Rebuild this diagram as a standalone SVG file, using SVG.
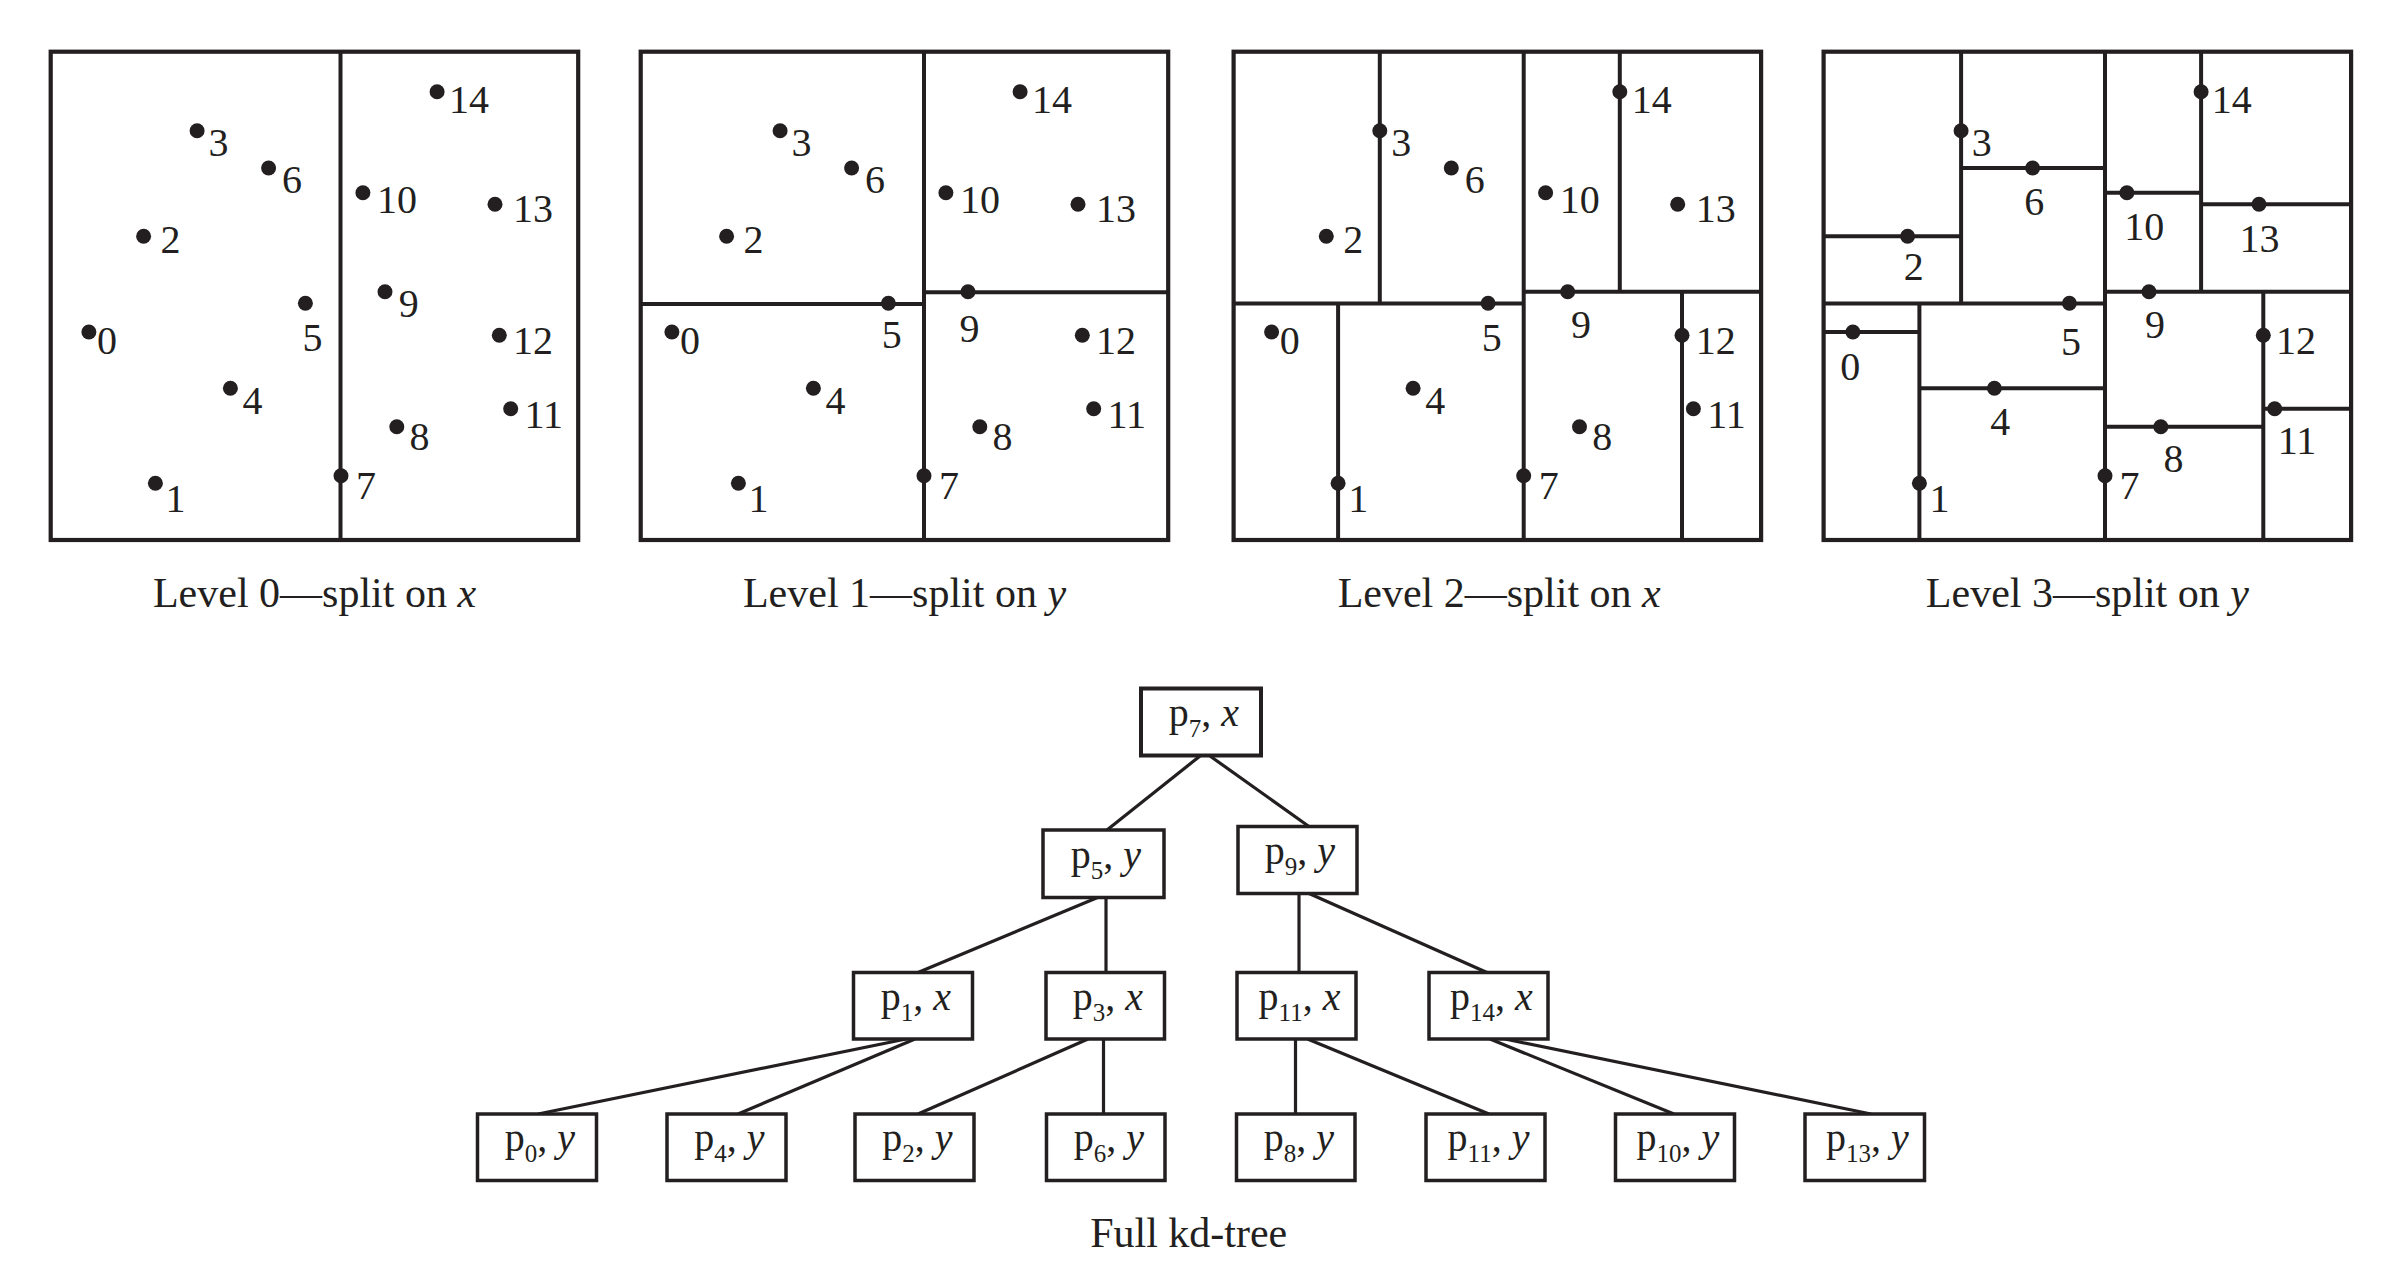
<svg xmlns="http://www.w3.org/2000/svg" xmlns:xlink="http://www.w3.org/1999/xlink" width="2400" height="1280" viewBox="0 0 2400 1280">
<style>
.frame{fill:none;stroke:#231f20;stroke-width:4.2}
.split{stroke:#231f20;stroke-width:4;fill:none}
.dot{fill:#231f20}
.lbl{font-family:"Liberation Serif",serif;font-size:40px;fill:#231f20}
.cap{font-family:"Liberation Serif",serif;font-size:42px;fill:#231f20;text-anchor:middle}
.node rect{fill:#fff;stroke:#231f20;stroke-width:3.5}
.node text{font-family:"Liberation Serif",serif;font-size:40px;fill:#231f20;text-anchor:middle}
.sub{font-size:25px}
.it{font-style:italic}
.edge{stroke:#231f20;stroke-width:3.2;fill:none}
</style>
<defs>
<g id="pts">
<circle class="dot" cx="88.9" cy="332" r="7.5"/>
<circle class="dot" cx="155.4" cy="483.3" r="7.5"/>
<circle class="dot" cx="143.6" cy="236.3" r="7.5"/>
<circle class="dot" cx="197.1" cy="130.7" r="7.5"/>
<circle class="dot" cx="230.4" cy="388.3" r="7.5"/>
<circle class="dot" cx="305.4" cy="303.3" r="7.5"/>
<circle class="dot" cx="268.6" cy="168" r="7.5"/>
<circle class="dot" cx="341" cy="475.7" r="7.5"/>
<circle class="dot" cx="396.8" cy="426.7" r="7.5"/>
<circle class="dot" cx="385" cy="291.7" r="7.5"/>
<circle class="dot" cx="362.9" cy="192.7" r="7.5"/>
<circle class="dot" cx="510.7" cy="408.7" r="7.5"/>
<circle class="dot" cx="499.3" cy="335.3" r="7.5"/>
<circle class="dot" cx="495" cy="204.3" r="7.5"/>
<circle class="dot" cx="437.1" cy="91.7" r="7.5"/>
</g>
<g id="lbls">
<text class="lbl" x="449" y="112.7">14</text>
<text class="lbl" x="208.5" y="156">3</text>
<text class="lbl" x="282" y="193">6</text>
<text class="lbl" x="377" y="213">10</text>
<text class="lbl" x="513" y="221.7">13</text>
<text class="lbl" x="160.5" y="252.7">2</text>
<text class="lbl" x="97" y="354">0</text>
<text class="lbl" x="513" y="354">12</text>
<text class="lbl" x="242.5" y="414">4</text>
<text class="lbl" x="524.5" y="428.3">11</text>
<text class="lbl" x="409.5" y="450">8</text>
<text class="lbl" x="356" y="499.3">7</text>
<text class="lbl" x="165.5" y="511.7">1</text>
</g>
</defs>

<g id="panel-level0">
<rect class="frame" x="50.7" y="51.7" width="527.5" height="488.3"/>
<line class="split" x1="340.5" y1="51.7" x2="340.5" y2="540"/>
<use xlink:href="#pts"/>
<use xlink:href="#lbls"/>
<text class="lbl" x="398.7" y="316.7">9</text>
<text class="lbl" x="302.5" y="350.7">5</text>
<text class="cap" x="314.5" y="606.7">Level 0—split on <tspan class="it">x</tspan></text>
</g>

<g id="panel-level1" transform="translate(583,0)">
<rect class="frame" x="57.7" y="51.7" width="527.5" height="488.3"/>
<line class="split" x1="341" y1="51.7" x2="341" y2="540"/>
<line class="split" x1="57.7" y1="304" x2="341" y2="304"/>
<line class="split" x1="341" y1="292.2" x2="586.5" y2="292.2"/>
<use xlink:href="#pts"/>
<use xlink:href="#lbls"/>
<text class="lbl" x="376.5" y="341.7">9</text>
<text class="lbl" x="298.7" y="348.3">5</text>
<text class="cap" x="321.5" y="606.7">Level 1—split on <tspan class="it">y</tspan></text>
</g>

<g id="panel-level2" transform="translate(1182.7,0)">
<rect class="frame" x="50.9" y="51.7" width="527.5" height="488.3"/>
<line class="split" x1="341" y1="51.7" x2="341" y2="540"/>
<line class="split" x1="50.9" y1="303.5" x2="341" y2="303.5"/>
<line class="split" x1="341" y1="291.7" x2="578.4" y2="291.7"/>
<line class="split" x1="197.1" y1="51.7" x2="197.1" y2="303.5"/>
<line class="split" x1="155.4" y1="303.5" x2="155.4" y2="540"/>
<line class="split" x1="437.1" y1="51.7" x2="437.1" y2="291.7"/>
<line class="split" x1="499.3" y1="291.7" x2="499.3" y2="540"/>
<use xlink:href="#pts"/>
<use xlink:href="#lbls"/>
<text class="lbl" x="388.3" y="338.3">9</text>
<text class="lbl" x="299" y="350.7">5</text>
<text class="cap" x="316.5" y="606.7">Level 2—split on <tspan class="it">x</tspan></text>
</g>

<g id="panel-level3" transform="translate(1764,0)">
<rect class="frame" x="59.6" y="51.7" width="527.5" height="488.3"/>
<line class="split" x1="341" y1="51.7" x2="341" y2="540"/>
<line class="split" x1="59.6" y1="303.5" x2="341" y2="303.5"/>
<line class="split" x1="341" y1="291.7" x2="587.1" y2="291.7"/>
<line class="split" x1="197.1" y1="51.7" x2="197.1" y2="303.5"/>
<line class="split" x1="155.4" y1="303.5" x2="155.4" y2="540"/>
<line class="split" x1="437.1" y1="51.7" x2="437.1" y2="291.7"/>
<line class="split" x1="499.3" y1="291.7" x2="499.3" y2="540"/>
<line class="split" x1="59.6" y1="236.3" x2="197.1" y2="236.3"/>
<line class="split" x1="197.1" y1="168" x2="341" y2="168"/>
<line class="split" x1="59.6" y1="332" x2="155.4" y2="332"/>
<line class="split" x1="155.4" y1="388.3" x2="341" y2="388.3"/>
<line class="split" x1="341" y1="192.7" x2="437.1" y2="192.7"/>
<line class="split" x1="437.1" y1="204.3" x2="587.1" y2="204.3"/>
<line class="split" x1="341" y1="426.7" x2="499.3" y2="426.7"/>
<line class="split" x1="499.3" y1="408.7" x2="587.1" y2="408.7"/>
<use xlink:href="#pts"/>
<text class="lbl" x="207.7" y="156">3</text>
<text class="lbl" x="447.7" y="112.7">14</text>
<text class="lbl" x="260.2" y="215">6</text>
<text class="lbl" x="360.2" y="240">10</text>
<text class="lbl" x="475.5" y="252.3">13</text>
<text class="lbl" x="139.8" y="280">2</text>
<text class="lbl" x="380.9" y="338.3">9</text>
<text class="lbl" x="297" y="355">5</text>
<text class="lbl" x="512" y="354">12</text>
<text class="lbl" x="76.2" y="380">0</text>
<text class="lbl" x="226.2" y="435">4</text>
<text class="lbl" x="513.7" y="454.3">11</text>
<text class="lbl" x="399.5" y="471.7">8</text>
<text class="lbl" x="355.5" y="499.3">7</text>
<text class="lbl" x="165.5" y="511.7">1</text>
<text class="cap" x="323.4" y="606.7">Level 3—split on <tspan class="it">y</tspan></text>
</g>

<g id="connectors">
<line class="edge" x1="1200" y1="756" x2="1107" y2="830"/>
<line class="edge" x1="1210" y1="756" x2="1309" y2="826.5"/>
<line class="edge" x1="1097" y1="897.7" x2="918" y2="972.5"/>
<line class="edge" x1="1106" y1="897.7" x2="1106" y2="972.5"/>
<line class="edge" x1="1299" y1="893.5" x2="1299" y2="972.5"/>
<line class="edge" x1="1309" y1="893.5" x2="1487" y2="972.5"/>
<line class="edge" x1="906" y1="1039" x2="538" y2="1114"/>
<line class="edge" x1="915" y1="1039" x2="738" y2="1114"/>
<line class="edge" x1="1088" y1="1039" x2="918" y2="1114"/>
<line class="edge" x1="1103.5" y1="1039" x2="1103.5" y2="1114"/>
<line class="edge" x1="1295.5" y1="1039" x2="1295.5" y2="1114"/>
<line class="edge" x1="1307.5" y1="1039" x2="1489" y2="1114"/>
<line class="edge" x1="1490" y1="1039" x2="1674" y2="1114"/>
<line class="edge" x1="1505" y1="1039" x2="1871" y2="1114"/>
</g>

<g id="node-p7" class="node"><rect x="1141" y="688.5" width="120" height="67" style="stroke-width:4"/><text x="1204" y="725.5">p<tspan class="sub" dy="11">7</tspan><tspan dy="-11">, </tspan><tspan class="it">x</tspan></text></g>
<g id="node-p5" class="node"><rect x="1043" y="830" width="121" height="67.5"/><text x="1106" y="867.5">p<tspan class="sub" dy="11">5</tspan><tspan dy="-11">, </tspan><tspan class="it">y</tspan></text></g>
<g id="node-p9" class="node"><rect x="1238" y="826.5" width="119" height="67"/><text x="1300" y="863.5">p<tspan class="sub" dy="11">9</tspan><tspan dy="-11">, </tspan><tspan class="it">y</tspan></text></g>
<g id="node-p1" class="node"><rect x="853.5" y="972.5" width="119" height="66.5"/><text x="916" y="1009.5">p<tspan class="sub" dy="11">1</tspan><tspan dy="-11">, </tspan><tspan class="it">x</tspan></text></g>
<g id="node-p3" class="node"><rect x="1046" y="972.5" width="118.5" height="66.5"/><text x="1108" y="1009.5">p<tspan class="sub" dy="11">3</tspan><tspan dy="-11">, </tspan><tspan class="it">x</tspan></text></g>
<g id="node-p11x" class="node"><rect x="1237" y="972.5" width="119" height="66.5"/><text x="1299.5" y="1009.5">p<tspan class="sub" dy="11">11</tspan><tspan dy="-11">, </tspan><tspan class="it">x</tspan></text></g>
<g id="node-p14" class="node"><rect x="1429" y="972.5" width="119" height="66.5"/><text x="1491.5" y="1009.5">p<tspan class="sub" dy="11">14</tspan><tspan dy="-11">, </tspan><tspan class="it">x</tspan></text></g>
<g id="node-p0" class="node"><rect x="477.5" y="1114" width="119" height="66.5"/><text x="540" y="1151">p<tspan class="sub" dy="11">0</tspan><tspan dy="-11">, </tspan><tspan class="it">y</tspan></text></g>
<g id="node-p4" class="node"><rect x="667" y="1114" width="119" height="66.5"/><text x="729.5" y="1151">p<tspan class="sub" dy="11">4</tspan><tspan dy="-11">, </tspan><tspan class="it">y</tspan></text></g>
<g id="node-p2" class="node"><rect x="855" y="1114" width="119" height="66.5"/><text x="917.5" y="1151">p<tspan class="sub" dy="11">2</tspan><tspan dy="-11">, </tspan><tspan class="it">y</tspan></text></g>
<g id="node-p6" class="node"><rect x="1046.5" y="1114" width="118.5" height="66.5"/><text x="1109" y="1151">p<tspan class="sub" dy="11">6</tspan><tspan dy="-11">, </tspan><tspan class="it">y</tspan></text></g>
<g id="node-p8" class="node"><rect x="1236.5" y="1114" width="118.5" height="66.5"/><text x="1299" y="1151">p<tspan class="sub" dy="11">8</tspan><tspan dy="-11">, </tspan><tspan class="it">y</tspan></text></g>
<g id="node-p11y" class="node"><rect x="1426" y="1114" width="119" height="66.5"/><text x="1488.5" y="1151">p<tspan class="sub" dy="11">11</tspan><tspan dy="-11">, </tspan><tspan class="it">y</tspan></text></g>
<g id="node-p10" class="node"><rect x="1615.5" y="1114" width="119" height="66.5"/><text x="1678" y="1151">p<tspan class="sub" dy="11">10</tspan><tspan dy="-11">, </tspan><tspan class="it">y</tspan></text></g>
<g id="node-p13" class="node"><rect x="1805" y="1114" width="119.5" height="66.5"/><text x="1867.5" y="1151">p<tspan class="sub" dy="11">13</tspan><tspan dy="-11">, </tspan><tspan class="it">y</tspan></text></g>

<text class="cap" x="1188.7" y="1246.7">Full kd-tree</text>
</svg>
